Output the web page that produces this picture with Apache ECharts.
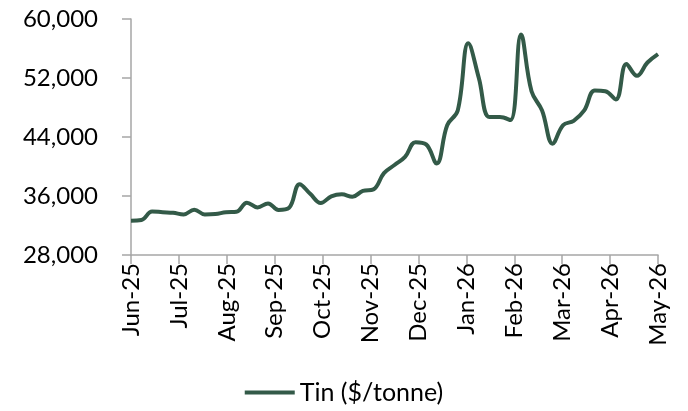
<!DOCTYPE html>
<html><head><meta charset="utf-8">
<script src="https://cdn.jsdelivr.net/npm/echarts@6/dist/echarts.min.js"></script>
<style>html,body{margin:0;padding:0;background:#fff}#c{width:688px;height:411px}</style>
</head><body><div id="c"></div>
<script>
const monthLabels = ['Jun-25','Jul-25','Aug-25','Sep-25','Oct-25','Nov-25','Dec-25','Jan-26','Feb-26','Mar-26','Apr-26','May-26'];
const seriesName = 'Tin ($/tonne)';
const tinPrice = [
 32650,32750,33900,33800,33720,33500,34150,33500,33550,33800,
 33860,35100,34450,35000,34100,34400,37600,36300,35050,35950,
 36230,35900,36700,36900,39100,40200,41300,43300,43000,40400,
 45600,47600,56700,52000,46700,46700,46300,57900,50200,47600,
 43100,45600,46200,47600,50300,50200,49100,53900,52300,54100,
 55250
];
const yTicks = {min:28000, max:60000, interval:8000};

const nMonths = monthLabels.length - 1;
const data = tinPrice.map((v,i)=>[i*nMonths/(tinPrice.length-1), v]);
const font = 'Lato';
const chart = echarts.init(document.getElementById('c'), null, {renderer:'canvas'});
chart.setOption({
  animation:false,
  grid:{left:131,right:30,top:19,bottom:156,containLabel:false},
  xAxis:{type:'value',min:0,max:nMonths,interval:1,
    axisLine:{show:true,lineStyle:{color:'#a6a6a6',width:1.5}},
    axisTick:{show:true,length:9,lineStyle:{color:'#a6a6a6',width:1.5}},
    splitLine:{show:false},
    axisLabel:{rotate:90,margin:8,color:'#000',fontFamily:font,fontSize:24,
      formatter:v=>monthLabels[Math.round(v)]}},
  yAxis:{type:'value',min:yTicks.min,max:yTicks.max,interval:yTicks.interval,
    axisLine:{show:true,lineStyle:{color:'#a6a6a6',width:1.5}},
    axisTick:{show:true,length:9,lineStyle:{color:'#a6a6a6',width:1.5}},
    splitLine:{show:false},
    axisLabel:{margin:33,color:'#000',fontFamily:font,fontSize:24,
      formatter:v=>v.toLocaleString('en-US')}},
  legend:{bottom:1,left:'center',icon:'rect',itemWidth:50,itemHeight:4,itemGap:6,
    textStyle:{color:'#000',fontFamily:font,fontSize:25},data:[seriesName]},
  series:[{name:seriesName,type:'line',data:data,smooth:0.4,showSymbol:false,
    lineStyle:{color:'#335a48',width:4},itemStyle:{color:'#335a48'}}]
});
</script></body></html>
